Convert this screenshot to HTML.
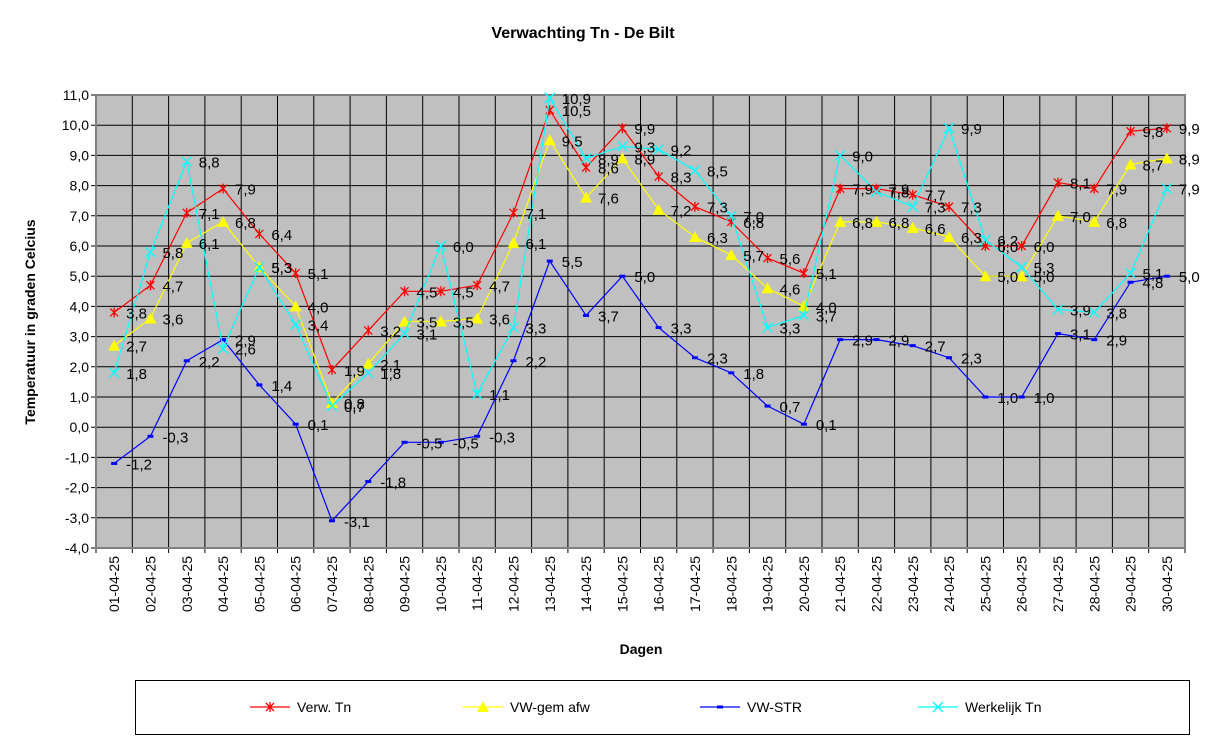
<!DOCTYPE html>
<html><head><meta charset="utf-8"><style>
html,body{margin:0;padding:0;background:#fff;}
svg{display:block;font-family:"Liberation Sans",Arial,sans-serif;}
</style></head><body>
<svg id="chart" width="1217" height="745" viewBox="0 0 1217 745" xmlns="http://www.w3.org/2000/svg">
<text x="583" y="38" text-anchor="middle" font-size="16" font-weight="bold">Verwachting Tn - De Bilt</text>
<text transform="translate(35,322) rotate(-90)" text-anchor="middle" font-size="14" font-weight="bold">Temperatuur in graden Celcius</text>
<text x="641" y="654" text-anchor="middle" font-size="14" font-weight="bold">Dagen</text>
<g id="plot"></g>
<g id="legend"></g>
</svg>
<script>
const categories = ["01-04-25","02-04-25","03-04-25","04-04-25","05-04-25","06-04-25","07-04-25","08-04-25","09-04-25","10-04-25","11-04-25","12-04-25","13-04-25","14-04-25","15-04-25","16-04-25","17-04-25","18-04-25","19-04-25","20-04-25","21-04-25","22-04-25","23-04-25","24-04-25","25-04-25","26-04-25","27-04-25","28-04-25","29-04-25","30-04-25"];
const verwTn = [3.8,4.7,7.1,7.9,6.4,5.1,1.9,3.2,4.5,4.5,4.7,7.1,10.5,8.6,9.9,8.3,7.3,6.8,5.6,5.1,7.9,7.9,7.7,7.3,6.0,6.0,8.1,7.9,9.8,9.9];
const vwGemAfw = [2.7,3.6,6.1,6.8,5.3,4.0,0.8,2.1,3.5,3.5,3.6,6.1,9.5,7.6,8.9,7.2,6.3,5.7,4.6,4.0,6.8,6.8,6.6,6.3,5.0,5.0,7.0,6.8,8.7,8.9];
const vwStr = [-1.2,-0.3,2.2,2.9,1.4,0.1,-3.1,-1.8,-0.5,-0.5,-0.3,2.2,5.5,3.7,5.0,3.3,2.3,1.8,0.7,0.1,2.9,2.9,2.7,2.3,1.0,1.0,3.1,2.9,4.8,5.0];
const werkelijkTn = [1.8,5.8,8.8,2.6,5.3,3.4,0.7,1.8,3.1,6.0,1.1,3.3,10.9,8.9,9.3,9.2,8.5,7.0,3.3,3.7,9.0,7.8,7.3,9.9,6.2,5.3,3.9,3.8,5.1,7.9];
const yTicks = [-4,-3,-2,-1,0,1,2,3,4,5,6,7,8,9,10,11];

const NS="http://www.w3.org/2000/svg";
const X0=96,X1=1185,Y0=95,Y1=548,YMIN=-4,YMAX=11;
const cw=(X1-X0)/categories.length;
function xs(i){return X0+cw*(i+0.5);}
function ys(v){return Y1-(v-YMIN)/(YMAX-YMIN)*(Y1-Y0);}
function mk(tag,attrs,parent){const e=document.createElementNS(NS,tag);for(const k in attrs)e.setAttribute(k,attrs[k]);parent.appendChild(e);return e;}
const plot=document.getElementById('plot');
const bg=mk('rect',{x:X0,y:Y0,width:X1-X0,height:Y1-Y0,fill:'#c0c0c0'},plot);


yTicks.forEach(t=>{
  const l=mk('line',{x1:X0-5,x2:X1,y1:ys(t),y2:ys(t),stroke:'#000','stroke-width':1},plot);
  
  
  const tx=mk('text',{x:X0-7,y:ys(t)+5,'text-anchor':'end','font-size':14},plot);
  tx.textContent=t.toFixed(1).replace('.',',');
  
  
});
for(let i=0;i<=categories.length;i++){
  const x=X0+cw*i;
  const l=mk('line',{x1:x,x2:x,y1:Y0,y2:Y1+5,stroke:'#000','stroke-width':1},plot);
  
  
}
categories.forEach((c,i)=>{
  const t=mk('text',{transform:`translate(${xs(i)+5},${Y1+8}) rotate(-90)`,'text-anchor':'end','font-size':14},plot);
  t.textContent=c;
  
  
});
const border=mk('rect',{x:X0,y:Y0,width:X1-X0,height:Y1-Y0,fill:'none',stroke:'#808080','stroke-width':2},plot);



function marker(type,x,y,color,parent){
  let e;
  if(type==='star'){
    e=mk('path',{d:`M${x-4},${y-4}L${x+4},${y+4}M${x-4},${y+4}L${x+4},${y-4}M${x},${y-5}L${x},${y+5}`,stroke:color,'stroke-width':1.3,fill:'none'},parent);
  }else if(type==='tri'){
    e=mk('path',{d:`M${x},${y-6}L${x+6},${y+5}L${x-6},${y+5}Z`,fill:color},parent);
  }else if(type==='dash'){
    e=mk('rect',{x:x-3,y:y-1.5,width:6,height:3,fill:color},parent);
  }else{
    e=mk('path',{d:`M${x-5},${y-5}L${x+5},${y+5}M${x-5},${y+5}L${x+5},${y-5}`,stroke:color,'stroke-width':1.3,fill:'none'},parent);
  }
  return e;
}
const series=[
 {name:'verw-tn',label:'Verw. Tn',data:verwTn,color:'#ff0000',m:'star',lx:250},
 {name:'vw-gem-afw',label:'VW-gem afw',data:vwGemAfw,color:'#ffff00',m:'tri',lx:463},
 {name:'vw-str',label:'VW-STR',data:vwStr,color:'#0000ff',m:'dash',lx:700},
 {name:'werkelijk-tn',label:'Werkelijk Tn',data:werkelijkTn,color:'#00ffff',m:'x',lx:918}
];
series.forEach(s=>{
  const g=mk('g',{},plot);
  
  
  const pts=s.data.map((v,i)=>xs(i)+','+ys(v)).join(' ');
  const pl=mk('polyline',{points:pts,fill:'none',stroke:s.color,'stroke-width':1.2},g);
  
  
  s.data.forEach((v,i)=>{
    const m=marker(s.m,xs(i),ys(v),s.color,g);
    
    
  });
});
series.forEach(s=>{
  s.data.forEach((v,i)=>{
    const t=mk('text',{x:xs(i)+12,y:ys(v)+6,'font-size':15,fill:'#000'},plot);
    t.textContent=v.toFixed(1).replace('.',',');
    
    
  });
});
const lg=document.getElementById('legend');
const lb=mk('rect',{x:135.5,y:680.5,width:1054,height:54,fill:'#fff',stroke:'#000','stroke-width':1},lg);


series.forEach(s=>{
  const g=mk('g',{},lg);
  
  
  mk('line',{x1:s.lx,x2:s.lx+40,y1:707,y2:707,stroke:s.color,'stroke-width':1.2},g);
  marker(s.m,s.lx+20,707,s.color,g);
  const t=mk('text',{x:s.lx+47,y:712,'font-size':14},g);
  t.textContent=s.label;
});
</script>
</body></html>
